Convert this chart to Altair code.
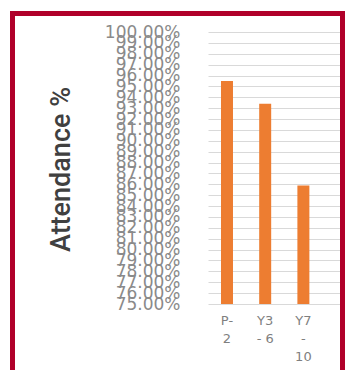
import json
import altair as alt
import pandas as pd

# ---- data ----
categories = ["P-2", "Y3 - 6", "Y7 - 10"]
attendance = [0.955, 0.934, 0.859]
label_lines = [["P-", "2"], ["Y3", "- 6"], ["Y7", "-", "10"]]
y_ticks = [v / 100 for v in range(75, 101)]
axis_min, axis_max = 0.75, 1.00
y_title = "Attendance %"

df = pd.DataFrame({"group": categories, "attendance": attendance})

# multi-line x tick labels
expr = "''"
for cat, lines in reversed(list(zip(categories, label_lines))):
    expr = f"datum.value == {json.dumps(cat)} ? {json.dumps(lines)} : ({expr})"

W, H = 132, 272
ORANGE = "#ED7D31"
BORDER = "#B0002A"

bars = alt.Chart(df).mark_bar(color=ORANGE).encode(
    x=alt.X(
        "group:N",
        sort=categories,
        scale=alt.Scale(paddingInner=0.686, paddingOuter=0.571, align=0.298),
        axis=alt.Axis(
            title=None, labelAngle=0, labelExpr=expr, labelColor="#7f7f7f",
            labelFont="DejaVu Sans", labelFontSize=13, labelLineHeight=18,
            labelPadding=10, ticks=False, domain=False, grid=False,
        ),
    ),
    y=alt.Y(
        "attendance:Q",
        scale=alt.Scale(domain=[axis_min, axis_max], nice=False, zero=False),
        axis=alt.Axis(
            values=y_ticks, format=".2%", title=y_title,
            labelColor="#8a8a8a", labelFont="DejaVu Sans", labelFontSize=17,
            labelPadding=28, ticks=False, domain=False,
            gridColor="#d9d9d9", gridWidth=1,
            titleFont="Roboto", titleFontSize=27, titleFontWeight=500,
            titleColor="#404040",
            titleAngle=-90, titleX=-139, titleY=H / 2 + 1, titleAlign="center",
            titleBaseline="alphabetic", labelOverlap=False, labelFlush=False,
        ),
    ),
    y2=alt.datum(axis_min),
)

border = alt.Chart(alt.Data(values=[{"frame": 1}])).mark_rect(
    filled=False, stroke=BORDER, strokeWidth=5
).encode(
    x=alt.value(-195.5), x2=alt.value(134.5),
    y=alt.value(-18.5), y2=alt.value(420),
)

chart = alt.layer(bars, border).properties(
    width=W, height=H,
    autosize=alt.AutoSizeParams(type="none"),
    padding={"left": 208, "top": 32, "right": 5, "bottom": 66},
    background="white",
).configure_view(stroke=None)

chart.save("out.html", embed_options={"renderer": "svg", "actions": False})
